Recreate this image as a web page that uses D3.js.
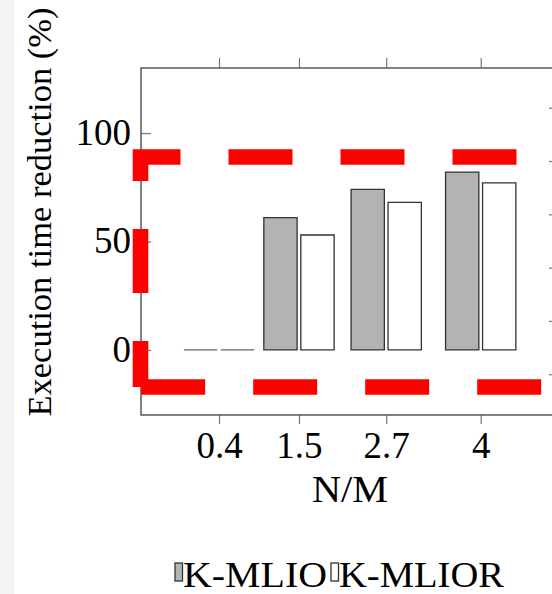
<!DOCTYPE html>
<html>
<head>
<meta charset="utf-8">
<script src="https://cdn.jsdelivr.net/npm/d3@7"></script>
<style>
  html, body { margin: 0; padding: 0; background: #fff; }
  svg { display: block; font-family: "Liberation Serif", "DejaVu Serif", serif; }
</style>
</head>
<body>
<div id="chart"></div>
<script>
// data
const categories = ["0.4", "1.5", "2.7", "4"];
const nm = [0.4, 1.5, 2.7, 4];
const kmlio = [0, 61, 74, 82];
const kmlior = [0, 53, 68, 77];
const yTicks = [0, 50, 100];
const rightTicks = [0, 20, 40, 60, 80, 100];
const seriesNames = ["K-MLIO", "K-MLIOR"];
const seriesFill = ["#b3b3b3", "#ffffff"];

const width = 552;
const height = 594;
const margin = {left: 141, top: 68};
const plotW = 418;   // right border falls outside the picture
const plotH = 347;

const svg = d3.select("#chart")
  .append("svg")
  .attr("width", width)
  .attr("height", height);

// grey strip on the left edge
svg.append("rect")
  .attr("x", 0).attr("y", 0)
  .attr("width", 14).attr("height", height)
  .attr("fill", "#f3f3f3");

const x = d3.scaleLinear()
  .domain([-0.673, 5.077])
  .range([0, plotW]);

const y = d3.scaleLinear()
  .domain([-30, 130])
  .range([plotH, 0]);

const yRight = d3.scaleLinear()
  .domain([-15.3, 114.9])
  .range([plotH, 0]);

const g = svg.append("g")
  .attr("transform", `translate(${margin.left},${margin.top})`);

// bars
const barW = 33.3;
const gap = 3.7;
const rows = nm.map((v, i) => ({v, a: kmlio[i], b: kmlior[i]}));

function barPath(x0, v) {
  const y0 = y(0), y1 = y(v);
  return `M${x0},${y0}V${y1}H${x0 + barW}V${y0}Z`;
}

[kmlio, kmlior].forEach((vals, s) => {
  g.selectAll(null)
    .data(rows)
    .enter()
    .append("path")
    .attr("d", d => {
      const c = x(d.v);
      const x0 = s === 0 ? c - gap / 2 - barW : c + gap / 2;
      return barPath(x0, s === 0 ? d.a : d.b);
    })
    .attr("fill", seriesFill[s])
    .attr("stroke", d => (s === 0 ? d.a : d.b) === 0 ? "#666" : "#333")
    .attr("stroke-width", 1.3);
});

// axes
const tickCol = "#777";

const axBottom = g.append("g")
  .attr("transform", `translate(0,${plotH})`)
  .call(d3.axisBottom(x).tickValues(nm).tickFormat((d, i) => categories[i]).tickSize(9).tickPadding(8).tickSizeOuter(0));

const axTop = g.append("g")
  .call(d3.axisTop(x).tickValues(nm).tickFormat("").tickSize(10).tickSizeOuter(0));

const axLeft = g.append("g")
  .call(d3.axisLeft(y).tickValues(yTicks).tickSize(-10).tickPadding(10).tickSizeOuter(0));

const axRight = g.append("g")
  .attr("transform", `translate(${plotW},0)`)
  .call(d3.axisRight(yRight).tickValues(rightTicks).tickFormat("").tickSize(-10).tickSizeOuter(0));

[axBottom, axTop, axLeft, axRight].forEach(ax => {
  ax.select(".domain").remove();
  ax.selectAll(".tick line").attr("stroke", tickCol).attr("stroke-width", 1.2);
  ax.selectAll(".tick text")
    .attr("font-family", "Liberation Serif")
    .attr("font-size", 37)
    .attr("fill", "#000");
});
axLeft.selectAll(".tick text").attr("dy", "0.3em");

// frame
g.append("rect")
  .attr("x", 0).attr("y", 0)
  .attr("width", plotW).attr("height", plotH)
  .attr("fill", "none")
  .attr("stroke", "#4d4d4d")
  .attr("stroke-width", 1.4);

// axis titles
svg.append("text")
  .attr("x", 350)
  .attr("y", 502)
  .attr("text-anchor", "middle")
  .attr("font-size", 37)
  .attr("textLength", 76)
  .attr("lengthAdjust", "spacingAndGlyphs")
  .text("N/M");

svg.append("text")
  .attr("transform", "translate(51,212) rotate(-90)")
  .attr("text-anchor", "middle")
  .attr("font-size", 34.5)
  .text("Execution time reduction (%)");

// legend
const legend = [
  {name: seriesNames[0], fill: seriesFill[0], bx: 175, tx: 183, len: 144},
  {name: seriesNames[1], fill: seriesFill[1], bx: 331, tx: 339, len: 165}
];
legend.forEach(l => {
  svg.append("rect")
    .attr("x", l.bx).attr("y", 563)
    .attr("width", 7.5).attr("height", 18)
    .attr("fill", l.fill)
    .attr("stroke", "#333")
    .attr("stroke-width", 1.3);
  svg.append("text")
    .attr("x", l.tx).attr("y", 586.5)
    .attr("font-size", 36)
    .attr("textLength", l.len)
    .attr("lengthAdjust", "spacingAndGlyphs")
    .text(l.name);
});

// red dashed highlight box, drawn from bottom-left corner upwards
const box = {l: 140.5, t: 157, r: 605.85, b: 387};
svg.append("path")
  .attr("d", `M${box.l},${box.b}V${box.t}H${box.r}V${box.b}H${box.l}`)
  .attr("fill", "none")
  .attr("stroke", "#ff0000")
  .attr("stroke-width", 15.6)
  .attr("stroke-dasharray", "64 48")
  .attr("stroke-dashoffset", 18)
  .attr("stroke-linejoin", "miter");
</script>
</body>
</html>
